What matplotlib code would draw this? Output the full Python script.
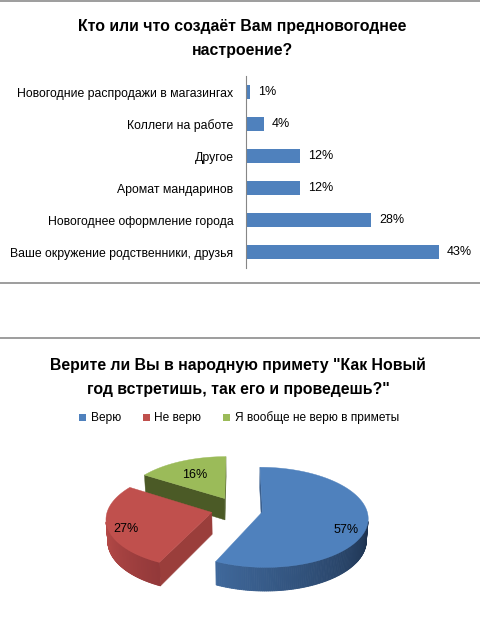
import numpy as np
import matplotlib
matplotlib.use('Agg')
import matplotlib.pyplot as plt
from matplotlib.lines import Line2D
from matplotlib.patches import Patch, Polygon
from matplotlib.colors import to_rgb

plt.rcParams['font.family'] = ['Liberation Sans', 'DejaVu Sans']

# ---------------- data ----------------
bar_title = 'Кто или что создаёт Вам предновогоднее\nнастроение?'
bar_categories = ['Новогодние распродажи в магазингах',
                  'Коллеги на работе',
                  'Другое',
                  'Аромат мандаринов',
                  'Новогоднее оформление города',
                  'Ваше окружение родственники, друзья']
bar_values = [1, 4, 12, 12, 28, 43]
bar_value_labels = ['1%', '4%', '12%', '12%', '28%', '43%']

pie_title = 'Верите ли Вы в народную примету "Как Новый\nгод встретишь, так его и проведешь?"'
pie_categories = ['Верю', 'Не верю', 'Я вообще не верю в приметы']
pie_values = [57, 27, 16]
pie_value_labels = ['57%', '27%', '16%']

# ---------------- style ----------------
W, H = 481, 637
BAR_COLOR = '#4F81BD'
TOP_COLORS = ['#4F81BD', '#C0504D', '#9BBB59']
WALL_LIGHT = ['#3F689B', '#B84B48', '#56682C']
WALL_DARK = ['#1E3350', '#93393A', '#3C4A1E']
RADIAL_COLORS = ['#3A5F8E', '#9A3E3B', '#4B5A26']
LABEL_R = [0.8, 0.8, 0.6]
LABEL_DX = [0, -3, -3]     # pixel nudges
LABEL_DY = [-10, -5, 0]

fig = plt.figure(figsize=(W / 100, H / 100), dpi=100)
fig.patch.set_facecolor('white')


def px_rect(l, t, r, b):
    return [l / W, 1 - b / H, (r - l) / W, (b - t) / H]


# frame lines
for yy in [0.8, 283, 338]:
    fig.add_artist(Line2D([0, 1], [1 - yy / H, 1 - yy / H], transform=fig.transFigure,
                          color='#8C8C8C', lw=1.2))

# ---------------- bar chart ----------------
fig.text(242 / W, 1 - 38.5 / H, bar_title, ha='center', va='center', fontsize=11.4,
         fontweight='bold', linespacing=1.75)

ax = fig.add_axes(px_rect(246, 76, 470, 268))
ypos = np.arange(len(bar_values))
ax.barh(ypos, bar_values, height=0.42, color=BAR_COLOR)
ax.set_ylim(len(bar_values) - 0.5, -0.5)
ax.set_xlim(0, 50)
ax.set_yticks(ypos)
ax.set_yticklabels(bar_categories, fontsize=8.8)
ax.tick_params(axis='y', length=0, pad=9)
ax.set_xticks([])
for s in ['top', 'right', 'bottom']:
    ax.spines[s].set_visible(False)
ax.spines['left'].set_color('#868686')
for yi, v, t in zip(ypos, bar_values, bar_value_labels):
    ax.annotate(t, (v, yi), xytext=(8, 0), textcoords='offset pixels',
                ha='left', va='center', fontsize=9)

# ---------------- 3D pie ----------------
fig.text(238 / W, 1 - 377 / H, pie_title, ha='center', va='center', fontsize=11.4,
         fontweight='bold', linespacing=1.75)

handles = [Patch(facecolor=c, edgecolor='none') for c in TOP_COLORS]
fig.legend(handles, pie_categories, loc='center', bbox_to_anchor=(239 / W, 1 - 418 / H),
           ncol=3, frameon=False, fontsize=8.55, handlelength=0.6, handleheight=0.6,
           handletextpad=0.4, columnspacing=1.8)

phi = np.radians(28)
Dcam = 7.9
thick = 0.24
k = 104.0
explode = 0.25
cx, cy = 237, 509
L, T, R, B = 60, 430, 430, 625
pax = fig.add_axes(px_rect(L, T, R, B))
pax.set_xlim((L - cx) / k, (R - cx) / k)
pax.set_ylim((cy - B) / k, (cy - T) / k)
pax.axis('off')

cosp, sinp = np.cos(phi), np.sin(phi)
cam = np.array([0.0, -Dcam * cosp, Dcam * sinp])


def proj(X, Y, Z):
    X = np.asarray(X, float); Y = np.asarray(Y, float); Z = np.asarray(Z, float)
    u = Z * cosp + Y * sinp
    d = Y * cosp - Z * sinp
    s = Dcam / (Dcam + d)
    return X * s, u * s


def visible(normal, point):
    return np.dot(normal, cam - point) > 0


def mix(c1, c2, t):
    a, b = np.array(to_rgb(c1)), np.array(to_rgb(c2))
    return tuple(a + (b - a) * t)


vals = np.array(pie_values, float)
spans = 360 * vals / vals.sum()
a1s = 90 - np.concatenate([[0], np.cumsum(spans)[:-1]])
a0s = a1s - spans
mids = (a0s + a1s) / 2

slices = []
for i in range(len(vals)):
    m = np.radians(mids[i])
    ox, oy = explode * np.cos(m), explode * np.sin(m)
    depth = (oy + 0.4 * np.sin(m)) * cosp
    slices.append((depth, i, ox, oy))
slices.sort(reverse=True)

for depth, i, ox, oy in slices:
    a0, a1 = np.radians(a0s[i]), np.radians(a1s[i])
    th = np.linspace(a0, a1, 200)
    # radial faces
    for ang, nrm in [(a0, np.array([np.sin(a0), -np.cos(a0), 0])),
                     (a1, np.array([-np.sin(a1), np.cos(a1), 0]))]:
        mid_pt = np.array([ox + 0.5 * np.cos(ang), oy + 0.5 * np.sin(ang), -thick / 2])
        if visible(nrm, mid_pt):
            X = [ox, ox + np.cos(ang), ox + np.cos(ang), ox]
            Y = [oy, oy + np.sin(ang), oy + np.sin(ang), oy]
            Z = [0, 0, -thick, -thick]
            px, py = proj(X, Y, Z)
            pax.add_patch(Polygon(np.column_stack([px, py]), closed=True,
                                  facecolor=RADIAL_COLORS[i], edgecolor=RADIAL_COLORS[i],
                                  lw=0.3))
    # outer wall (gradient strips)
    vis = [visible(np.array([np.cos(t), np.sin(t), 0]),
                   np.array([ox + np.cos(t), oy + np.sin(t), -thick / 2])) for t in th]
    idx = [j for j in range(len(th) - 1) if vis[j] and vis[j + 1]]
    if idx:
        tmin, tmax = th[idx[0]], th[idx[-1] + 1]
        for j in idx:
            t0, t1 = th[j], th[j + 1]
            frac = ((t0 + t1) / 2 - tmin) / max(tmax - tmin, 1e-9)
            col = mix(WALL_LIGHT[i], WALL_DARK[i], frac)
            X = [ox + np.cos(t0), ox + np.cos(t1), ox + np.cos(t1), ox + np.cos(t0)]
            Y = [oy + np.sin(t0), oy + np.sin(t1), oy + np.sin(t1), oy + np.sin(t0)]
            Z = [0, 0, -thick, -thick]
            px, py = proj(X, Y, Z)
            pax.add_patch(Polygon(np.column_stack([px, py]), closed=True,
                                  facecolor=col, edgecolor=col, lw=0.6))
    # top face
    X = np.concatenate([[ox], ox + np.cos(th)])
    Y = np.concatenate([[oy], oy + np.sin(th)])
    px, py = proj(X, Y, np.zeros_like(X))
    pax.add_patch(Polygon(np.column_stack([px, py]), closed=True,
                          facecolor=TOP_COLORS[i], edgecolor=TOP_COLORS[i], lw=0.3))
    # label
    m = np.radians(mids[i])
    lx, ly = proj(ox + LABEL_R[i] * np.cos(m), oy + LABEL_R[i] * np.sin(m), 0)
    pax.annotate(pie_value_labels[i], (lx, ly), xytext=(LABEL_DX[i], LABEL_DY[i]),
                 textcoords='offset pixels', ha='center', va='center', fontsize=9,
                 color='black')

fig.savefig('out.png', dpi=100, facecolor='white')
